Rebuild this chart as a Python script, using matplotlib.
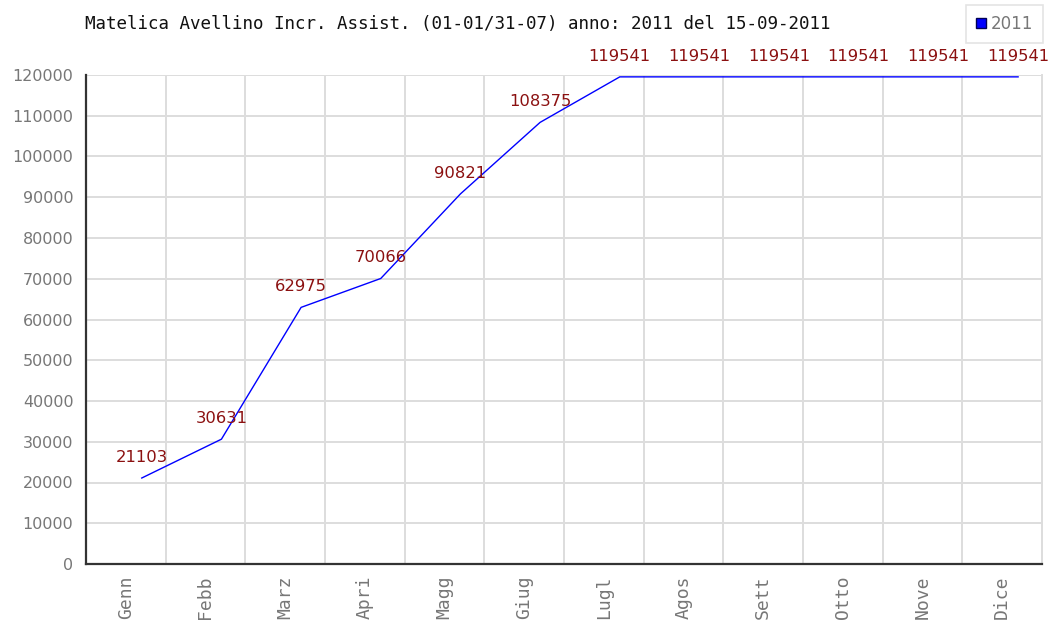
import matplotlib
matplotlib.use("Agg")
import matplotlib.pyplot as plt
from matplotlib.lines import Line2D
import numpy as np

months = ["Genn", "Febb", "Marz", "Apri", "Magg", "Giug", "Lugl", "Agos", "Sett", "Otto", "Nove", "Dice"]
values = [21103, 30631, 62975, 70066, 90821, 108375, 119541, 119541, 119541, 119541, 119541, 119541]
series_name = "2011"
title = "Matelica Avellino Incr. Assist. (01-01/31-07) anno: 2011 del 15-09-2011"

W, H = 1052, 621
fig = plt.figure(figsize=(W / 100, H / 100), dpi=100)
ax = fig.add_axes([86 / W, (H - 564) / H, (1042 - 86) / W, (564 - 75) / H])

n = len(months)
xs = np.arange(n) + 0.7
ax.plot(xs, values, color="#0000ff", lw=1.0, clip_on=False, zorder=3)

for x, v in zip(xs, values):
    ax.annotate(str(v), (x, v), xytext=(0, 15), textcoords="offset points",
                ha="center", va="center", color="#8b1010", fontsize=11.8,
                family="DejaVu Sans", annotation_clip=False)

ax.set_xlim(0, n)
ax.set_ylim(0, 120000)
ax.set_xticks(np.arange(n) + 0.5)
ax.set_xticklabels(months, rotation=90, family="DejaVu Sans Mono", fontsize=13, color="#777777")
ax.set_xticks(np.arange(1, n), minor=True)
ax.set_yticks(np.arange(0, 120001, 10000))
ax.set_yticklabels([str(v) for v in range(0, 120001, 10000)], family="DejaVu Sans",
                   fontsize=11.5, color="#777777")
ax.tick_params(axis="both", which="both", length=0)
ax.tick_params(axis="y", pad=9)
ax.tick_params(axis="x", pad=8)
ax.grid(True, axis="y", which="major", color="#dddddd", lw=1.4)
ax.grid(True, axis="x", which="minor", color="#dddddd", lw=1.4)
ax.grid(False, axis="x", which="major")
ax.set_axisbelow(True)

ax.spines["top"].set_visible(False)
ax.spines["right"].set_color("#dddddd")
ax.spines["right"].set_linewidth(1.4)
ax.spines["left"].set_color("#333333")
ax.spines["bottom"].set_color("#333333")
ax.spines["left"].set_linewidth(1.6)
ax.spines["bottom"].set_linewidth(1.6)

fig.text(85 / W, 1 - 24 / H, title, family="DejaVu Sans Mono", fontsize=12.6,
         ha="left", va="center", color="#111111")

handle = Line2D([], [], marker="s", color="#0000ff", markeredgecolor="#000055",
                linestyle="none", markersize=7.5)
leg = fig.legend([handle], [series_name], loc="upper right",
                 bbox_to_anchor=(1043 / W, 1 - 5 / H), frameon=True, fancybox=False,
                 handlelength=0.6, handletextpad=0.25, borderpad=0.6, fontsize=12,
                 labelcolor="#777777", edgecolor="#dddddd", borderaxespad=0)
leg.get_frame().set_linewidth(1.2)

fig.savefig("out.png", dpi=100)
